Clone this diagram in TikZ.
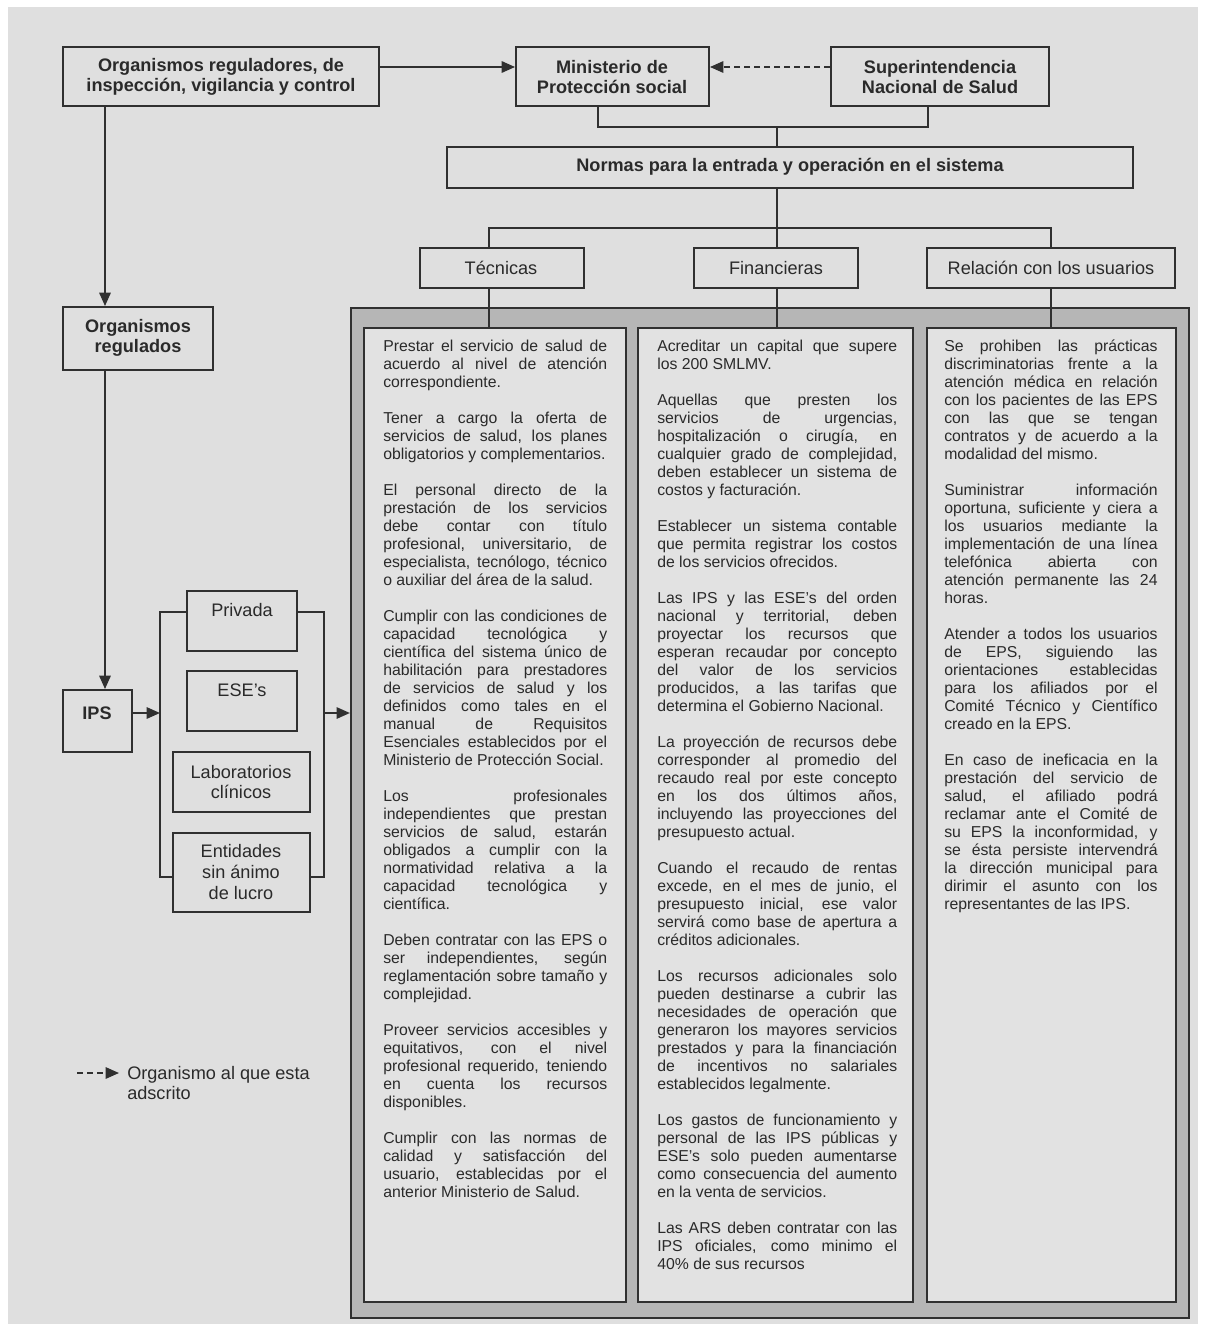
\documentclass[tikz,border=0pt]{standalone}
\usepackage{fontspec}
\setmainfont{Liberation Sans}
\usetikzlibrary{arrows.meta,fit,calc}
\definecolor{bgc}{HTML}{DFDFDF}
\definecolor{bandc}{HTML}{B6B6B6}
\definecolor{colc}{HTML}{E2E2E2}
\definecolor{linec}{HTML}{303030}
\definecolor{txtc}{HTML}{2A2A2A}
\newcommand\J[1]{\hbox to\hsize{#1}}
\newcommand\Lf[1]{\hbox{#1}}
\newcommand\Bk{\hbox{}}
\tikzset{
  bx/.style={draw=linec, line width=1.4pt, fill=bgc, inner sep=0pt},
  colbox/.style={draw=linec, line width=1.4pt, fill=colc, inner sep=0pt},
  btxt/.style={font=\fontsize{13.6}{15}\selectfont\bfseries, align=center, text=txtc, inner sep=0pt},
  rtxt/.style={font=\fontsize{13.6}{15.4}\selectfont, align=center, text=txtc, inner sep=0pt},
  coltxt/.style={font=\fontsize{11.85}{13.5}\selectfont, text=txtc, inner sep=0pt},
  ln/.style={draw=linec, line width=1.4pt},
  arr/.style={draw=linec, line width=1.4pt, -{Triangle[length=10pt,width=8.5pt]}},
  dsh/.style={dash pattern=on 4.5pt off 3pt},
}
\begin{document}
\begin{tikzpicture}[x=0.75pt,y=-0.75pt]
\useasboundingbox (0,0) rectangle (1209,1324);
\fill[white] (0,0) rectangle (1209,1324);
\fill[bgc] (8,7) rectangle (1198,1324);

% top row
\node[bx, fit={(63,47) (379,106)}] (orgreg) {};
\node[btxt] (orgregt) at (221,77) {Organismos reguladores, de\\inspección, vigilancia y control};
\node[bx, fit={(516,47) (709,106)}] (mps) {};
\node[btxt] (mpst) at (612,77) {Ministerio de\\Protección social};
\node[bx, fit={(831,47) (1049,106)}] (sns) {};
\node[btxt] (snst) at (940,77) {Superintendencia\\Nacional de Salud};
\node[bx, fit={(447,147) (1133,188)}] (norm) {};
\node[btxt] (normt) at (790,167) {Normas para la entrada y operación en el sistema};
\node[bx, fit={(420,248) (584,288)}] (tec) {};
\node[rtxt] (tect) at (501,268) {Técnicas};
\node[bx, fit={(694,248) (858,288)}] (fin) {};
\node[rtxt] (fint) at (776,268) {Financieras};
\node[bx, fit={(927,248) (1175,288)}] (rel) {};
\node[rtxt] (relt) at (1051,268) {Relación con los usuarios};

% outer frame and columns
\node[draw=linec, line width=1.6pt, fill=bandc, inner sep=0pt, fit={(351,308) (1189,1318)}] (outer) {};
\node[colbox, fit={(364,328) (626,1302)}] (col1) {};
\node[colbox, fit={(638,328) (913,1302)}] (col2) {};
\node[colbox, fit={(927,328) (1176,1302)}] (col3) {};

% connectors top
\coordinate (ya) at (0,67);
\coordinate (xm) at (598,0);
\coordinate (xs) at (928,0);
\coordinate (yj) at (0,127);
\coordinate (xc) at (777,0);
\coordinate (yb) at (0,228);
\coordinate (xt) at (489,0);
\coordinate (xr) at (1051,0);
\draw[arr] (orgreg.east |- ya) -- (mps.west |- ya);
\draw[arr, dsh] (sns.west |- ya) -- (mps.east |- ya);
\draw[ln] (mps.south -| xm) |- (yj -| xs) -- (sns.south -| xs);
\draw[ln] (yj -| xc) -- (norm.north -| xc);
\draw[ln] (norm.south -| xc) -- (fin.north -| xc);
\draw[ln] (tec.north -| xt) |- (yb -| xr) -- (rel.north -| xr);
\draw[ln] (tec.south -| xt) -- (col1.north -| xt);
\draw[ln] (fin.south -| xc) -- (col2.north -| xc);
\draw[ln] (rel.south -| xr) -- (col3.north -| xr);

% left side
\node[bx, fit={(63,307) (213,370)}] (oreg) {};
\node[btxt] (oregt) at (138,338) {Organismos\\regulados};
\node[bx, fit={(63,690) (132,752)}] (ips) {};
\node[btxt] (ipst) at (97,713) {IPS};
\node[bx, fit={(187,591) (297,651)}] (priv) {};
\node[rtxt] (privt) at (242,610) {Privada};
\node[bx, fit={(187,671) (297,731)}] (ese) {};
\node[rtxt] (eset) at (242,690) {ESE’s};
\node[bx, fit={(173,752) (310,812)}] (lab) {};
\node[rtxt] (labt) at (241,782) {Laboratorios\\clínicos};
\node[bx, fit={(173,833) (310,912)}] (ent) {};
\node[rtxt] (entt) at (241,872) {Entidades\\sin ánimo\\de lucro};

\coordinate (xl) at (105,0);
\coordinate (yi) at (0,713);
\coordinate (xb1) at (160,0);
\coordinate (xb2) at (324,0);
\coordinate (yt) at (0,612);
\coordinate (ybt) at (0,877);
\draw[arr] (orgreg.south -| xl) -- (oreg.north -| xl);
\draw[arr] (oreg.south -| xl) -- (ips.north -| xl);
\draw[arr] (ips.east |- yi) -- (yi -| xb1);
\draw[ln] (priv.west |- yt) -| (ybt -| xb1) -- (ent.west |- ybt);
\draw[ln] (priv.east |- yt) -| (ybt -| xb2) -- (ent.east |- ybt);
\draw[arr] (yi -| xb2) -- (outer.west |- yi);

% legend
\coordinate (lg1) at (77,1073);
\coordinate (lg2) at (119,1073);
\draw[arr, dsh] (lg1) -- (lg2);
\node[rtxt, anchor=base west] (leg) at (127,1079) {\vtop{\baselineskip=15pt\hbox{Organismo al que esta}\hbox{adscrito}}};

% column 1
\node[coltxt, anchor=base west] (t1) at (383,351) {\vtop{\hsize=168pt
\J{Prestar el servicio de salud de}
\J{acuerdo al nivel de atención}
\Lf{correspondiente.}
\Bk
\J{Tener a cargo la oferta de}
\J{servicios de salud, los planes}
\Lf{obligatorios y complementarios.}
\Bk
\J{El personal directo de la}
\J{prestación de los servicios}
\J{debe contar con título}
\J{profesional, universitario, de}
\J{especialista, tecnólogo, técnico}
\Lf{o auxiliar del área de la salud.}
\Bk
\J{Cumplir con las condiciones de}
\J{capacidad tecnológica y}
\J{científica del sistema único de}
\J{habilitación para prestadores}
\J{de servicios de salud y los}
\J{definidos como tales en el}
\J{manual de Requisitos}
\J{Esenciales establecidos por el}
\Lf{Ministerio de Protección Social.}
\Bk
\J{Los profesionales}
\J{independientes que prestan}
\J{servicios de salud, estarán}
\J{obligados a cumplir con la}
\J{normatividad relativa a la}
\J{capacidad tecnológica y}
\Lf{científica.}
\Bk
\J{Deben contratar con las EPS o}
\J{ser independientes, según}
\J{reglamentación sobre tamaño y}
\Lf{complejidad.}
\Bk
\J{Proveer servicios accesibles y}
\J{equitativos, con el nivel}
\J{profesional requerido, teniendo}
\J{en cuenta los recursos}
\Lf{disponibles.}
\Bk
\J{Cumplir con las normas de}
\J{calidad y satisfacción del}
\J{usuario, establecidas por el}
\Lf{anterior Ministerio de Salud.}
}};

% column 2
\node[coltxt, anchor=base west] (t2) at (657,351) {\vtop{\hsize=180pt
\J{Acreditar un capital que supere}
\Lf{los 200 SMLMV.}
\Bk
\J{Aquellas que presten los}
\J{servicios de urgencias,}
\J{hospitalización o cirugía, en}
\J{cualquier grado de complejidad,}
\J{deben establecer un sistema de}
\Lf{costos y facturación.}
\Bk
\J{Establecer un sistema contable}
\J{que permita registrar los costos}
\Lf{de los servicios ofrecidos.}
\Bk
\J{Las IPS y las ESE’s del orden}
\J{nacional y territorial, deben}
\J{proyectar los recursos que}
\J{esperan recaudar por concepto}
\J{del valor de los servicios}
\J{producidos, a las tarifas que}
\Lf{determina el Gobierno Nacional.}
\Bk
\J{La proyección de recursos debe}
\J{corresponder al promedio del}
\J{recaudo real por este concepto}
\J{en los dos últimos años,}
\J{incluyendo las proyecciones del}
\Lf{presupuesto actual.}
\Bk
\J{Cuando el recaudo de rentas}
\J{excede, en el mes de junio, el}
\J{presupuesto inicial, ese valor}
\J{servirá como base de apertura a}
\Lf{créditos adicionales.}
\Bk
\J{Los recursos adicionales solo}
\J{pueden destinarse a cubrir las}
\J{necesidades de operación que}
\J{generaron los mayores servicios}
\J{prestados y para la financiación}
\J{de incentivos no salariales}
\Lf{establecidos legalmente.}
\Bk
\J{Los gastos de funcionamiento y}
\J{personal de las IPS públicas y}
\J{ESE’s solo pueden aumentarse}
\J{como consecuencia del aumento}
\Lf{en la venta de servicios.}
\Bk
\J{Las ARS deben contratar con las}
\J{IPS oficiales, como minimo el}
\Lf{40\% de sus recursos}
}};

% column 3
\node[coltxt, anchor=base west] (t3) at (944,351) {\vtop{\hsize=160pt
\J{Se prohiben las prácticas}
\J{discriminatorias frente a la}
\J{atención médica en relación}
\J{con los pacientes de las EPS}
\J{con las que se tengan}
\J{contratos y de acuerdo a la}
\Lf{modalidad del mismo.}
\Bk
\J{Suministrar información}
\J{oportuna, suficiente y ciera a}
\J{los usuarios mediante la}
\J{implementación de una línea}
\J{telefónica abierta con}
\J{atención permanente las 24}
\Lf{horas.}
\Bk
\J{Atender a todos los usuarios}
\J{de EPS, siguiendo las}
\J{orientaciones establecidas}
\J{para los afiliados por el}
\J{Comité Técnico y Científico}
\Lf{creado en la EPS.}
\Bk
\J{En caso de ineficacia en la}
\J{prestación del servicio de}
\J{salud, el afiliado podrá}
\J{reclamar ante el Comité de}
\J{su EPS la inconformidad, y}
\J{se ésta persiste intervendrá}
\J{la dirección municipal para}
\J{dirimir el asunto con los}
\Lf{representantes de las IPS.}
}};
\end{tikzpicture}
\end{document}
